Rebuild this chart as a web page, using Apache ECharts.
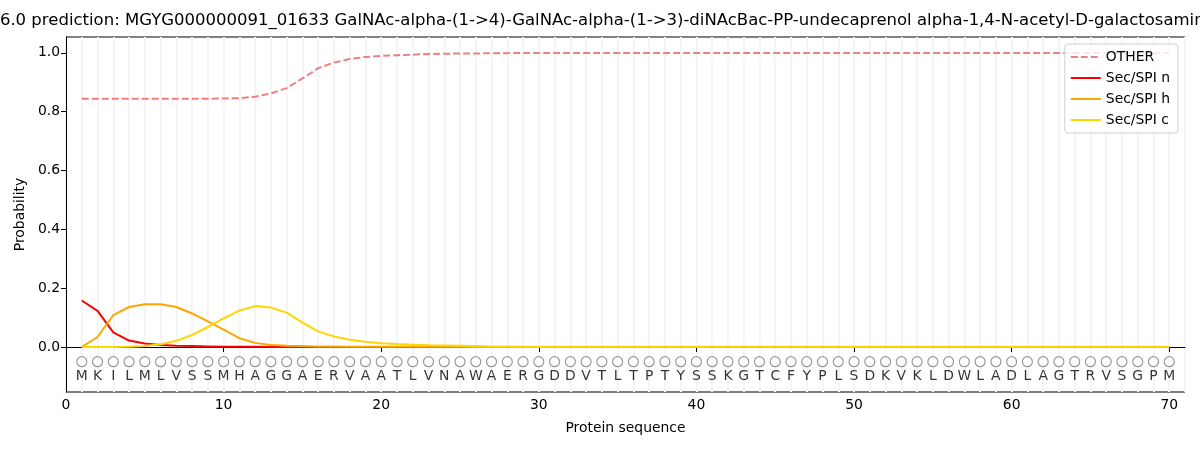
<!DOCTYPE html>
<html>
<head>
<meta charset="utf-8">
<script src="https://cdn.jsdelivr.net/npm/echarts@6/dist/echarts.min.js"></script>
<style>
  html, body { margin: 0; padding: 0; background: #fff; }
  #chart { width: 1200px; height: 450px; }
</style>
</head>
<body>
<div id="chart"></div>
<script>
// sequence letters (positions 1..70)
var residues = 'MKILMLVSSMHAGGAERVAATLVNAWAERGDDVTLTPTYSSKGTCFYPLSDKVKLDWLADLAGTRVSGPM'.split('');

var otherProb = [
  0.844, 0.844, 0.844, 0.844, 0.844, 0.844, 0.844, 0.844, 0.844, 0.845,
  0.846, 0.851, 0.862, 0.880, 0.913, 0.948, 0.967, 0.979, 0.986, 0.990,
  0.992, 0.994, 0.996, 0.997, 0.998, 0.998, 0.999, 0.999, 1.0, 1.0,
  1.0, 1.0, 1.0, 1.0, 1.0, 1.0, 1.0, 1.0, 1.0, 1.0,
  1.0, 1.0, 1.0, 1.0, 1.0, 1.0, 1.0, 1.0, 1.0, 1.0,
  1.0, 1.0, 1.0, 1.0, 1.0, 1.0, 1.0, 1.0, 1.0, 1.0,
  1.0, 1.0, 1.0, 1.0, 1.0, 1.0, 1.0, 1.0, 1.0, 1.0
];
var secN = [
  0.158, 0.123, 0.050, 0.022, 0.012, 0.007, 0.004, 0.003, 0.002, 0.001,
  0.001, 0.001, 0, 0, 0, 0, 0, 0, 0, 0,
  0, 0, 0, 0, 0, 0, 0, 0, 0, 0,
  0, 0, 0, 0, 0, 0, 0, 0, 0, 0,
  0, 0, 0, 0, 0, 0, 0, 0, 0, 0,
  0, 0, 0, 0, 0, 0, 0, 0, 0, 0,
  0, 0, 0, 0, 0, 0, 0, 0, 0, 0
];
var secH = [
  0.0, 0.034, 0.108, 0.136, 0.145, 0.145, 0.136, 0.114, 0.087, 0.059,
  0.030, 0.014, 0.007, 0.004, 0.003, 0.002, 0.002, 0.001, 0.001, 0.001,
  0.001, 0.001, 0.001, 0.001, 0.001, 0, 0, 0, 0, 0,
  0, 0, 0, 0, 0, 0, 0, 0, 0, 0,
  0, 0, 0, 0, 0, 0, 0, 0, 0, 0,
  0, 0, 0, 0, 0, 0, 0, 0, 0, 0,
  0, 0, 0, 0, 0, 0, 0, 0, 0, 0
];
var secC = [
  0.0, 0.0, 0.0, 0.001, 0.003, 0.009, 0.021, 0.041, 0.068, 0.097,
  0.124, 0.139, 0.134, 0.117, 0.083, 0.053, 0.036, 0.025, 0.018, 0.013,
  0.010, 0.008, 0.006, 0.005, 0.004, 0.003, 0.002, 0.002, 0.001, 0.001,
  0.001, 0.001, 0.001, 0.001, 0.001, 0.001, 0.001, 0.001, 0.001, 0.001,
  0.001, 0.001, 0.001, 0.001, 0.001, 0.001, 0.001, 0.001, 0.001, 0.001,
  0.001, 0.001, 0.001, 0.001, 0.001, 0.001, 0.001, 0.001, 0.001, 0.001,
  0.001, 0.001, 0.001, 0.001, 0.001, 0.001, 0.001, 0.001, 0.001, 0.001
];
var yTicks = [0, 0.2, 0.4, 0.6, 0.8, 1.0];
var xTicks = [0, 10, 20, 30, 40, 50, 60, 70];

var titleText = 'SignalP 6.0 prediction: MGYG000000091_01633 GalNAc-alpha-(1->4)-GalNAc-alpha-(1->3)-diNAcBac-PP-undecaprenol alpha-1,4-N-acetyl-D-galactosaminyltransferase';

function pairs(arr) {
  return arr.map(function (v, i) { return [i + 1, v]; });
}

var font = 'DejaVu Sans';
var fs = 13.9;
var chart = echarts.init(document.getElementById('chart'));

chart.setOption({
  animation: false,
  textStyle: { fontFamily: font },
  graphic: [{
    type: 'text',
    left: -66,
    top: 12,
    style: { text: titleText, font: '16.5px "DejaVu Sans"', fill: '#000' }
  }],
  grid: {
    left: 66, right: 15, top: 37, bottom: 58,
    show: true, borderColor: '#000', borderWidth: 1
  },
  legend: {
    orient: 'vertical',
    right: 22, top: 44,
    itemWidth: 30, itemHeight: 10, itemGap: 7,
    padding: [6, 8, 6, 5],
    borderColor: '#d0d0d0', borderWidth: 1, borderRadius: 3,
    backgroundColor: 'rgba(255,255,255,0.8)',
    itemStyle: { opacity: 0 },
    textStyle: { fontSize: fs, color: '#000', fontFamily: font },
    data: ['OTHER', 'Sec/SPI n', 'Sec/SPI h', 'Sec/SPI c']
  },
  xAxis: [{
    type: 'value', min: 0, max: 71,
    name: 'Protein sequence', nameLocation: 'middle', nameGap: 29,
    nameTextStyle: { fontSize: fs, color: '#000', fontFamily: font },
    axisLine: { lineStyle: { color: '#000' } },
    axisTick: { customValues: xTicks, length: 5, lineStyle: { color: '#000' } },
    axisLabel: { customValues: xTicks, fontSize: fs, color: '#000', margin: 6 },
    splitLine: { show: false }
  }, {
    type: 'value', min: 0, max: 71, interval: 1, position: 'top',
    axisLine: { show: false }, axisTick: { show: false }, axisLabel: { show: false },
    splitLine: { show: true, lineStyle: { color: '#f5f5f5', width: 2 } }
  }],
  yAxis: {
    type: 'value', min: -0.153, max: 1.054,
    name: 'Probability', nameLocation: 'middle', nameGap: 38,
    nameTextStyle: { fontSize: fs, color: '#000', fontFamily: font },
    axisLine: { show: true, lineStyle: { color: '#000' } },
    axisTick: { show: true, customValues: yTicks, length: 5, lineStyle: { color: '#000' } },
    axisLabel: {
      customValues: yTicks, fontSize: fs, color: '#000', margin: 6,
      formatter: function (v) { return v.toFixed(1); }
    },
    splitLine: { show: false }
  },
  series: [{
    name: 'OTHER', type: 'line', data: pairs(otherProb),
    showSymbol: false, symbol: 'none', z: 3,
    lineStyle: { color: '#f08080', width: 2, type: [7, 3] },
    itemStyle: { color: '#f08080' }
  }, {
    name: 'Sec/SPI n', type: 'line', data: pairs(secN),
    showSymbol: false, symbol: 'none', z: 3,
    lineStyle: { color: '#ff0000', width: 2 }, itemStyle: { color: '#ff0000' }
  }, {
    name: 'Sec/SPI h', type: 'line', data: pairs(secH),
    showSymbol: false, symbol: 'none', z: 3,
    lineStyle: { color: '#ffa500', width: 2 }, itemStyle: { color: '#ffa500' }
  }, {
    name: 'Sec/SPI c', type: 'line', data: pairs(secC),
    showSymbol: false, symbol: 'none', z: 3,
    lineStyle: { color: '#ffd700', width: 2 }, itemStyle: { color: '#ffd700' }
  }, {
    name: 'circles', type: 'scatter', silent: true,
    data: residues.map(function (r, i) { return [i + 1, -0.05]; }),
    symbol: 'circle', symbolSize: 10, z: 4,
    itemStyle: { color: '#fff', borderColor: '#808080', borderWidth: 1.2 }
  }, {
    name: 'letters', type: 'scatter', silent: true,
    data: residues.map(function (r, i) { return [i + 1, -0.1, r]; }),
    symbolSize: 1, z: 4,
    itemStyle: { color: 'rgba(255,255,255,0)' },
    label: {
      show: true, position: 'inside',
      formatter: function (p) { return p.data[2]; },
      fontSize: fs, color: '#000', fontFamily: font
    }
  }]
});
</script>
</body>
</html>
